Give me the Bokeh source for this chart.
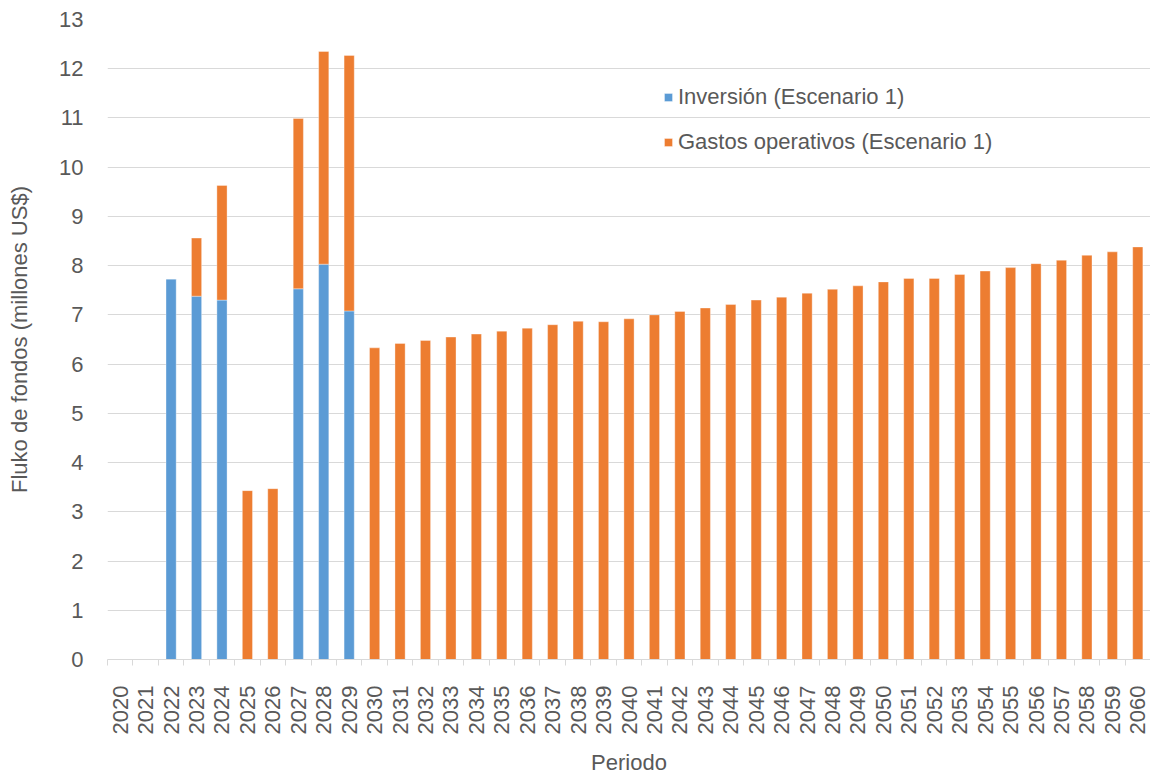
from bokeh.plotting import figure
from bokeh.models import Range1d, FixedTicker, Legend, LegendItem, BasicTickFormatter
from bokeh.embed import file_html
from bokeh.resources import INLINE
import math

years = list(range(2020, 2061))
inversion = [0, 0, 7.73, 7.38, 7.30, 0, 0, 7.53, 8.03, 7.08] + [0] * 31
gastos = [0, 0, 0, 1.18, 2.33, 3.43, 3.47, 3.46, 4.32, 5.19,
          6.33, 6.42, 6.48, 6.55, 6.61, 6.67, 6.73, 6.80, 6.87, 6.86,
          6.92, 7.00, 7.07, 7.14, 7.21, 7.30, 7.36, 7.44, 7.52, 7.59,
          7.67, 7.74, 7.74, 7.82, 7.89, 7.96, 8.04, 8.11, 8.21, 8.28, 8.38]
series_names = ["Inversión (Escenario 1)", "Gastos operativos (Escenario 1)"]
colors = ["#5B9BD5", "#ED7D31"]
y_ticks = list(range(0, 14))

FONT = "Liberation Sans"
TXT = "#595959"
GRID = "#d9d9d9"
FS = "22px"

data = {"x": years, "inv": inversion, "gas": gastos}

p = figure(width=1150, height=778, output_backend="svg", toolbar_location=None,
           x_range=Range1d(2019.5, 2060.5), y_range=Range1d(0, 13),
           min_border_left=107, min_border_right=0, min_border_top=19,
           min_border_bottom=118)
p.outline_line_color = None

rs = p.vbar_stack(["inv", "gas"], x="x", width=0.4, source=data, color=colors,
                  line_color="white", line_alpha=0.35, line_width=1)

legend = Legend(items=[LegendItem(label=series_names[0], renderers=[rs[0]]),
                       LegendItem(label=series_names[1], renderers=[rs[1]])],
                location=(556, 504), orientation="vertical")
legend.background_fill_alpha = 0
legend.border_line_color = None
legend.padding = 0
legend.margin = 0
legend.glyph_width = 10
legend.glyph_height = 10
legend.label_height = 26
legend.spacing = 19
legend.label_standoff = 5
legend.label_text_font = FONT
legend.label_text_font_size = FS
legend.label_text_color = TXT
p.add_layout(legend)

# x axis
xa = p.xaxis[0]
xa.ticker = FixedTicker(ticks=years, minor_ticks=[y + 0.5 for y in range(2019, 2061)])
xa.formatter = BasicTickFormatter(use_scientific=False)
xa.major_label_orientation = math.pi / 2
xa.major_tick_line_color = None
xa.major_tick_out = 0
xa.major_tick_in = 0
xa.minor_tick_line_color = GRID
xa.minor_tick_out = 6
xa.minor_tick_in = 0
xa.axis_line_color = GRID
xa.major_label_standoff = 20
xa.major_label_text_font = FONT
xa.major_label_text_font_size = FS
xa.major_label_text_color = TXT
xa.axis_label = "Periodo"
xa.axis_label_text_font = FONT
xa.axis_label_text_font_size = FS
xa.axis_label_text_font_style = "normal"
xa.axis_label_text_color = TXT
xa.axis_label_standoff = 13

# y axis
ya = p.yaxis[0]
ya.ticker = FixedTicker(ticks=y_ticks)
ya.axis_line_color = None
ya.major_tick_line_color = None
ya.minor_tick_line_color = None
ya.major_tick_out = 0
ya.major_tick_in = 0
ya.major_label_standoff = 24
ya.major_label_text_font = FONT
ya.major_label_text_font_size = FS
ya.major_label_text_color = TXT
ya.axis_label = "Fluko de fondos (millones US$)"
ya.axis_label_text_font = FONT
ya.axis_label_text_font_size = FS
ya.axis_label_text_font_style = "normal"
ya.axis_label_text_color = TXT
ya.axis_label_standoff = 24

p.xgrid.grid_line_color = None
p.ygrid.grid_line_color = GRID
p.ygrid.grid_line_width = 1

open("out.html", "w").write(file_html(p, INLINE))
